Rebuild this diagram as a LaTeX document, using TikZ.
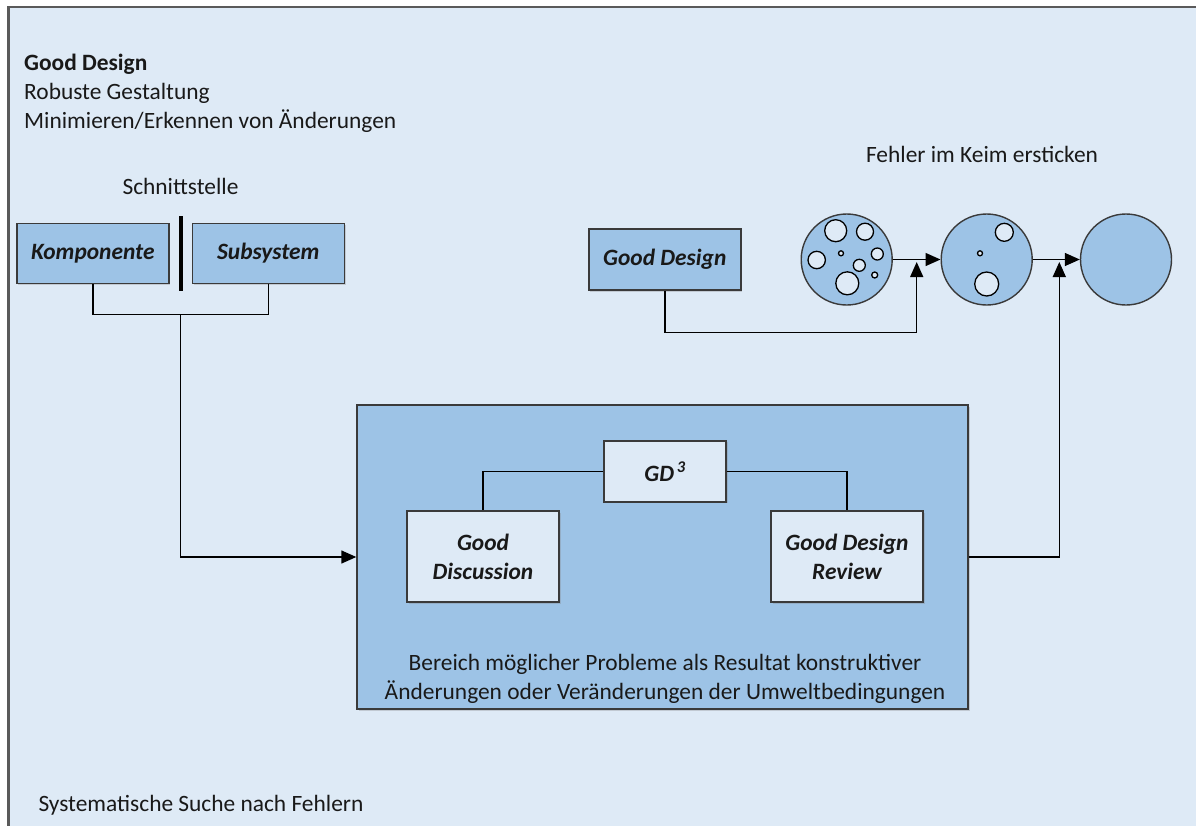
\documentclass[tikz,border=0pt]{standalone}
\usepackage{fontspec}
\setmainfont{Carlito}
\usetikzlibrary{arrows.meta,shadows,calc}
\definecolor{paneBg}{HTML}{DEEAF6}
\definecolor{boxBlue}{HTML}{9DC3E6}
\definecolor{edgeGray}{HTML}{3A3A3A}
\definecolor{frameGray}{HTML}{5A5A5A}
\begin{document}
\begin{tikzpicture}[x=1pt,y=-1pt,
  every node/.style={font=\fontsize{23.4}{29}\selectfont, inner sep=0pt, text=black!90},
  boxshadow/.style={drop shadow={shadow xshift=1.5pt,shadow yshift=-1.5pt,opacity=0.3}},
  bluebox/.style={draw=edgeGray, line width=1.4pt, fill=boxBlue, minimum width=152pt,
    minimum height=60pt, align=center, boxshadow,
    font=\fontsize{23.4}{29}\selectfont\bfseries\itshape},
  lightbox/.style={bluebox, fill=paneBg},
  stagecircle/.style={draw=edgeGray, line width=1.4pt, fill=boxBlue, circle, minimum size=91pt},
  hole/.style={draw=black, line width=1.3pt, fill=paneBg},
  wire/.style={draw=black, line width=1.4pt},
  arr/.style={wire, -{Triangle[length=15pt,width=13pt]}},
]
% canvas and outer frame
\useasboundingbox (0,0) rectangle (1196,825);
\clip (0,0) rectangle (1196,825);
\fill[white] (0,0) rectangle (1196,825);
\fill[paneBg] (8.5,7) rectangle (1200,830);
\draw[line width=2.5pt, frameGray] (8.5,830) -- (8.5,7) -- (1200,7);

% heading texts
\node[anchor=base west, font=\fontsize{23.4}{29}\selectfont\bfseries] (title) at (24,70) {Good Design};
\node[anchor=base west] (robust) at (24,99.3) {Robuste Gestaltung};
\node[anchor=base west] (minim) at (24,128.3) {Minimieren/Erkennen von Änderungen};
\node[anchor=base] (schnitt) at (180.5,194.3) {Schnittstelle};
\node[anchor=base] (keim) at (982,162.3) {Fehler im Keim ersticken};
\node[anchor=base west] (suche) at (38.3,811.7) {Systematische Suche nach Fehlern};

% component / subsystem with interface bar
\node[bluebox] (komp) at (92.8,253.3) {Komponente};
\node[bluebox] (subs) at (268.3,253.3) {Subsystem};
\node[fill=black, minimum width=4pt, minimum height=75pt] (bar) at (180.7,253.2) {};

% problem area with GD3 methods
\node[bluebox, minimum width=611pt, minimum height=304pt] (area) at (662.5,557) {};
\node[anchor=base] (area1) at (665,670) {Bereich möglicher Probleme als Resultat konstruktiver};
\node[anchor=base] (area2) at (665,699) {Änderungen oder Veränderungen der Umweltbedingungen};
\node[lightbox, minimum width=122pt, minimum height=61pt] (gd3) at (665,471.3) {GD\textsuperscript{\,3}};
\node[lightbox, minimum height=91pt] (disc) at (483,556.5) {Good\\Discussion};
\node[lightbox, minimum height=91pt] (rev) at (847,556.5) {Good Design\\Review};

% good design and the three stages
\node[bluebox, minimum height=61pt] (gdbox) at (664.8,259.6) {Good Design};
\node[stagecircle] (c1) at (846.7,259.5) {};
\node[stagecircle] (c2) at (986.7,259.5) {};
\node[stagecircle] (c3) at (1126,259.5) {};

% defects inside the first stage
\foreach \dx/\dy/\r in {-11/-28.8/11, 18.3/-27.8/8.5, -30/0.5/8.7, -5.7/-6.2/2.5,
                        30.6/-5.5/6, 12.6/5.8/6, 28/15.5/3, 0.6/23.8/11.5}
  \draw[hole] ([shift={(\dx,\dy)}]c1.center) circle (\r pt);
% remaining defects inside the second stage
\foreach \dx/\dy/\r in {17.6/-27.2/9, -6.7/-6.2/2.5, 0/24.5/12}
  \draw[hole] ([shift={(\dx,\dy)}]c2.center) circle (\r pt);

% junction points of the connectors
\coordinate (jk) at (180.7,314.3);
\coordinate (jg) at (916.7,332.7);
\coordinate (tip1) at (916.7,262);
\coordinate (tip2) at (1059.3,262);

% connectors
\draw[wire] (komp.south) |- (jk) -| (subs.south);
\draw[arr] (jk) |- (area.west);
\draw[wire] (gd3.west) -| (disc.north);
\draw[wire] (gd3.east) -| (rev.north);
\draw[arr] (gdbox.south) |- (jg) -- (tip1);
\draw[arr] (c1.east) -- (c2.west);
\draw[arr] (c2.east) -- (c3.west);
\draw[arr] (area.east) -| (tip2);
\end{tikzpicture}
\end{document}
